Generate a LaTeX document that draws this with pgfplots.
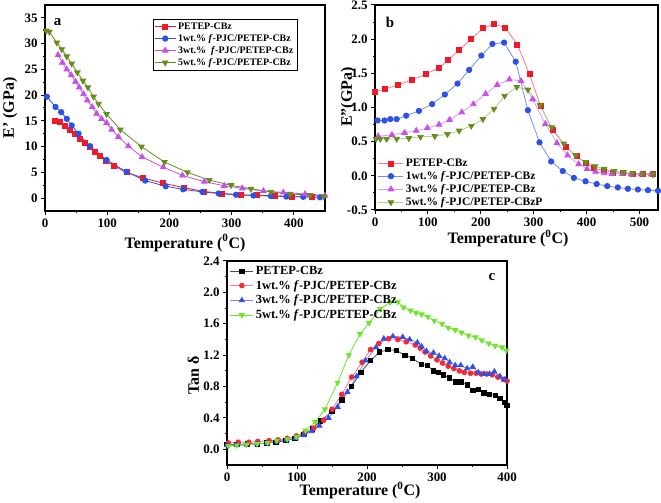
\documentclass[border=0pt]{standalone}
\usepackage{fontspec}
\setmainfont{Liberation Serif}
\usepackage{pgfplots}
\pgfplotsset{compat=1.18}
\definecolor{ared}{RGB}{240,25,40}
\definecolor{ablue}{RGB}{45,80,235}
\definecolor{amag}{RGB}{200,80,230}
\definecolor{aolive}{RGB}{105,140,30}
\definecolor{bredl}{RGB}{250,120,140}
\definecolor{bbluel}{RGB}{120,140,240}
\definecolor{bmagl}{RGB}{230,150,240}
\definecolor{boll}{RGB}{170,210,140}
\definecolor{cred}{RGB}{250,40,50}
\definecolor{cgreen}{RGB}{110,230,40}
\pgfplotsset{
  myax/.style={scale only axis, axis line style={line width=1.3bp}, tick style={line width=1bp, black},
    tick align=outside, xtick pos=left, ytick pos=left, major tick length=4bp, minor tick length=2.5bp,
    minor x tick num=1, minor y tick num=1,
    tick label style={font=\fontsize{13}{13}\selectfont\bfseries},
    label style={font=\fontsize{16}{17}\selectfont\bfseries},
    /pgf/number format/assume math mode=true,
    legend cell align=left,
    every axis plot/.append style={line width=0.8bp},
  },
}
\begin{document}
\begin{tikzpicture}[x=1bp,y=1bp]
\useasboundingbox (0,0) rectangle (661,503);
% ---------------- panel a
\begin{axis}[myax, at={(45bp,292bp)}, anchor=south west, width=280bp, height=206bp,
  xmin=0, xmax=450, ymin=-2.5, ymax=37.5, xtick={0,100,200,300,400}, ytick={0,5,...,35},
  xlabel={Temperature (\textsuperscript{0}C)}, ylabel={E' (GPa)},
  xlabel style={at={(axis description cs:0.5,-0.155)}, anchor=center},
  ylabel style={at={(axis description cs:-0.125,0.5)}, anchor=center},
  legend style={at={(0.9,0.932)}, anchor=north east, draw=black, line width=0.5bp, inner sep=1.5bp,
    font=\fontsize{10}{11.5}\selectfont\bfseries, row sep=-0.5bp},
  legend image code/.code={\draw[mark repeat=2,mark phase=2] plot coordinates {(0bp,0bp) (10.5bp,0bp) (21bp,0bp)};},
]
\addplot[color=ared, mark=square*, mark size=2.5bp] coordinates {
(16,14.9)(24,14.8)(32,14.1)(40,13.2)(48,12.4)(56,11.5)(64,10.7)(72,9.9)(80,9.0)(88,8.1)(98,7.3)(110,6.3)(131,5.0)(158,3.9)(190,2.9)(224,2.0)(256,1.3)(284,0.9)(315,0.65)(340,0.55)(370,0.45)(397,0.3)(429,0.2)};
\addlegendentry{PETEP-CBz}
\addplot[color=ablue, mark=*, mark size=2.7bp] coordinates {
(3,19.7)(17,17.7)(26,16.7)(35,15.4)(43,14.1)(54,12.5)(72,10.1)(99,7.4)(131,5.1)(161,3.4)(194,2.3)(222,1.7)(253,1.2)(279,0.9)(307,0.65)(335,0.5)(363,0.4)(388,0.3)(415,0.25)(442,0.15)};
\addlegendentry{1wt.\% \textit{f}-PJC/PETEP-CBz}
\addplot[color=amag, mark=triangle*, mark size=3.2bp] coordinates {
(21,27.8)(28,26.3)(35,25.0)(42,23.9)(49,22.6)(55,21.5)(62,20.2)(68,19.0)(76,17.7)(83,16.4)(91,15.4)(99,14.6)(107,13.3)(118,11.9)(134,10.1)(156,8.0)(190,6.0)(221,4.4)(256,3.2)(288,2.4)(317,1.9)(351,1.4)(383,1.1)(418,0.8)(450,0.5)};
\addlegendentry{3wt.\%\ \ \textit{f}-PJC/PETEP-CBz}
\addplot[color=aolive, mark=triangle*, mark options={rotate=180}, mark size=3.2bp] coordinates {
(2,32.5)(7,32.3)(19,30.2)(27,28.9)(35,27.5)(43,26.1)(52,24.4)(61,22.8)(69,21.5)(78,19.7)(86,18.3)(99,16.3)(121,13.3)(155,10.0)(192,7.0)(229,5.0)(264,3.5)(299,2.5)(331,1.8)(363,1.2)(394,0.8)(426,0.6)(448,0.35)};
\addlegendentry{5wt.\% \textit{f}-PJC/PETEP-CBz}
\node[font=\fontsize{15}{15}\selectfont\bfseries] at (rel axis cs:0.045,0.915) {a};
\end{axis}
% ---------------- panel b
\begin{axis}[myax, at={(375bp,293bp)}, anchor=south west, width=283bp, height=205bp,
  xmin=0, xmax=535, ymin=-0.5, ymax=2.5, xtick={0,100,...,500}, ytick={-0.5,0,...,2.5},
  yticklabel style={/pgf/number format/.cd, fixed, fixed zerofill, precision=1},
  xlabel={Temperature (\textsuperscript{0}C)}, ylabel={E''(GPa)},
  xlabel style={at={(axis description cs:0.47,-0.14)}, anchor=center},
  ylabel style={at={(axis description cs:-0.095,0.55)}, anchor=center},
  legend style={at={(0.01,0.26)}, anchor=north west, draw=none, fill=none, inner sep=0bp,
    font=\fontsize{11.5}{12}\selectfont\bfseries, row sep=-0.5bp},
  legend image code/.code={\draw[mark repeat=2,mark phase=2] plot coordinates {(0bp,0bp) (12.5bp,0bp) (25bp,0bp)};},
]
\addplot[color=bredl, mark=square*, mark options={ared}, mark size=2.5bp] coordinates {
(0,1.23)(18,1.27)(43,1.33)(69,1.40)(96,1.49)(121,1.58)(138,1.69)(159,1.84)(182,2.0)(204,2.16)(225,2.22)(246,2.17)(269,1.92)(292,1.49)(313,1.02)(336,0.67)(361,0.42)(381,0.29)(398,0.19)(414,0.11)(432,0.08)(449,0.05)(468,0.04)(487,0.03)(506,0.03)(525,0.03)};
\addlegendentry{PETEP-CBz}
\addplot[color=bbluel, mark=*, mark options={ablue}, mark size=2.7bp] coordinates {
(5,0.81)(18,0.81)(29,0.83)(41,0.83)(59,0.88)(83,0.95)(108,1.05)(132,1.19)(156,1.35)(178,1.55)(201,1.76)(222,1.93)(244,1.95)(266,1.67)(289,0.96)(311,0.49)(333,0.21)(355,0.07)(376,-0.03)(398,-0.08)(419,-0.12)(439,-0.15)(459,-0.17)(478,-0.19)(497,-0.2)(516,-0.21)(535,-0.22)};
\addlegendentry{1wt.\% \textit{f}-PJC/PETEP-CBz}
\addplot[color=bmagl, mark=triangle*, mark options={amag}, mark size=3.2bp] coordinates {
(6,0.58)(32,0.6)(56,0.63)(78,0.66)(99,0.7)(121,0.75)(141,0.82)(164,0.93)(186,1.05)(209,1.2)(231,1.33)(254,1.41)(276,1.39)(298,1.12)(322,0.76)(344,0.48)(364,0.3)(385,0.17)(401,0.1)(417,0.06)(433,0.04)(448,0.03)(468,0.03)(484,0.02)(503,0.02)(522,0.02)};
\addlegendentry{3wt.\% \textit{f}-PJC/PETEP-CBz}
\addplot[color=boll, mark=triangle*, mark options={aolive, rotate=180}, mark size=3.2bp] coordinates {
(2,0.54)(10,0.54)(22,0.54)(41,0.54)(64,0.55)(86,0.57)(113,0.58)(137,0.61)(159,0.66)(182,0.73)(204,0.83)(225,0.98)(245,1.17)(268,1.3)(289,1.26)(312,1.03)(334,0.71)(357,0.47)(379,0.3)(398,0.2)(416,0.14)(433,0.1)(452,0.07)(470,0.05)(487,0.04)(506,0.03)(525,0.02)};
\addlegendentry{5wt.\% \textit{f}-PJC/PETEP-CBzP}
\node[font=\fontsize{15}{15}\selectfont\bfseries] at (rel axis cs:0.053,0.917) {b};
\end{axis}
% ---------------- panel c
\begin{axis}[myax, at={(227bp,38bp)}, anchor=south west, width=280bp, height=204bp,
  xmin=0, xmax=400, ymin=-0.2, ymax=2.4, xtick={0,100,...,400}, ytick={0,0.4,...,2.4},
  yticklabel style={/pgf/number format/.cd, fixed, fixed zerofill, precision=1},
  xlabel={Temperature (\textsuperscript{0}C)}, ylabel={Tan δ},
  xlabel style={at={(axis description cs:0.475,-0.125)}, anchor=center},
  ylabel style={at={(axis description cs:-0.12,0.44)}, anchor=center},
  legend style={at={(0.01,0.985)}, anchor=north west, draw=none, fill=none, inner sep=0bp,
    font=\fontsize{12.5}{13}\selectfont\bfseries, row sep=0.5bp},
  legend image code/.code={\draw[mark repeat=2,mark phase=2] plot coordinates {(0bp,0bp) (11.5bp,0bp) (23bp,0bp)};},
]
\addplot[color=black!70, mark=square*, mark options={black}, mark size=2.2bp] coordinates {
(0,0.06)(14,0.06)(29,0.07)(43,0.07)(57,0.08)(70,0.09)(84,0.11)(97,0.14)(110,0.19)(122,0.26)(133,0.36)(150,0.48)(164,0.63)(178,0.80)(191,0.98)(205,1.13)(218,1.24)(230,1.27)(242,1.26)(254,1.20)(265,1.16)(278,1.08)(286,1.07)(295,1.00)(302,0.98)(309,0.95)(318,0.91)(326,0.86)(334,0.86)(343,0.82)(351,0.75)(359,0.76)(367,0.72)(375,0.70)(383,0.69)(390,0.65)(397,0.60)(400,0.56)};
\addlegendentry{PETEP-CBz}
\addplot[color=bredl, mark=*, mark options={cred}, mark size=2.4bp] coordinates {
(2,0.08)(16,0.09)(31,0.09)(44,0.1)(60,0.11)(73,0.12)(86,0.14)(99,0.17)(111,0.21)(124,0.27)(138,0.37)(150,0.51)(164,0.70)(178,0.92)(193,1.11)(205,1.27)(217,1.35)(231,1.41)(244,1.40)(256,1.37)(269,1.33)(276,1.29)(283,1.24)(291,1.19)(300,1.14)(308,1.10)(316,1.06)(324,1.03)(332,1.00)(339,0.98)(348,0.97)(356,0.97)(363,0.96)(371,0.96)(379,0.95)(387,0.92)(395,0.89)(400,0.87)};
\addlegendentry{1wt.\% \textit{f}-PJC/PETEP-CBz}
\addplot[color=bbluel, mark=triangle*, mark options={ablue}, mark size=2.9bp] coordinates {
(0,0.05)(14,0.05)(28,0.06)(43,0.07)(57,0.08)(71,0.10)(85,0.12)(98,0.14)(110,0.18)(121,0.23)(132,0.30)(145,0.40)(158,0.54)(172,0.73)(185,0.93)(198,1.13)(213,1.30)(224,1.41)(237,1.44)(251,1.43)(261,1.40)(272,1.36)(278,1.31)(285,1.25)(295,1.23)(303,1.19)(311,1.16)(318,1.11)(326,1.07)(334,1.07)(343,1.03)(351,1.05)(359,0.98)(367,0.96)(375,0.96)(382,0.99)(390,0.93)(397,0.89)};
\addlegendentry{3wt.\% \textit{f}-PJC/PETEP-CBz}
\addplot[color=cgreen, mark=triangle*, mark options={cgreen, rotate=180}, mark size=2.9bp] coordinates {
(2,0.04)(14,0.05)(28,0.06)(43,0.07)(58,0.08)(71,0.11)(86,0.13)(99,0.16)(112,0.24)(126,0.35)(140,0.51)(158,0.85)(174,1.20)(190,1.47)(203,1.61)(219,1.79)(233,1.87)(244,1.88)(252,1.81)(262,1.77)(270,1.74)(278,1.72)(287,1.69)(296,1.64)(307,1.60)(316,1.55)(326,1.52)(335,1.49)(345,1.45)(355,1.43)(364,1.39)(374,1.35)(383,1.32)(393,1.30)(399,1.26)};
\addlegendentry{5wt.\% \textit{f}-PJC/PETEP-CBz}
\node[font=\fontsize{15}{15}\selectfont\bfseries] at (rel axis cs:0.946,0.922) {c};
\end{axis}
\end{tikzpicture}
\end{document}
